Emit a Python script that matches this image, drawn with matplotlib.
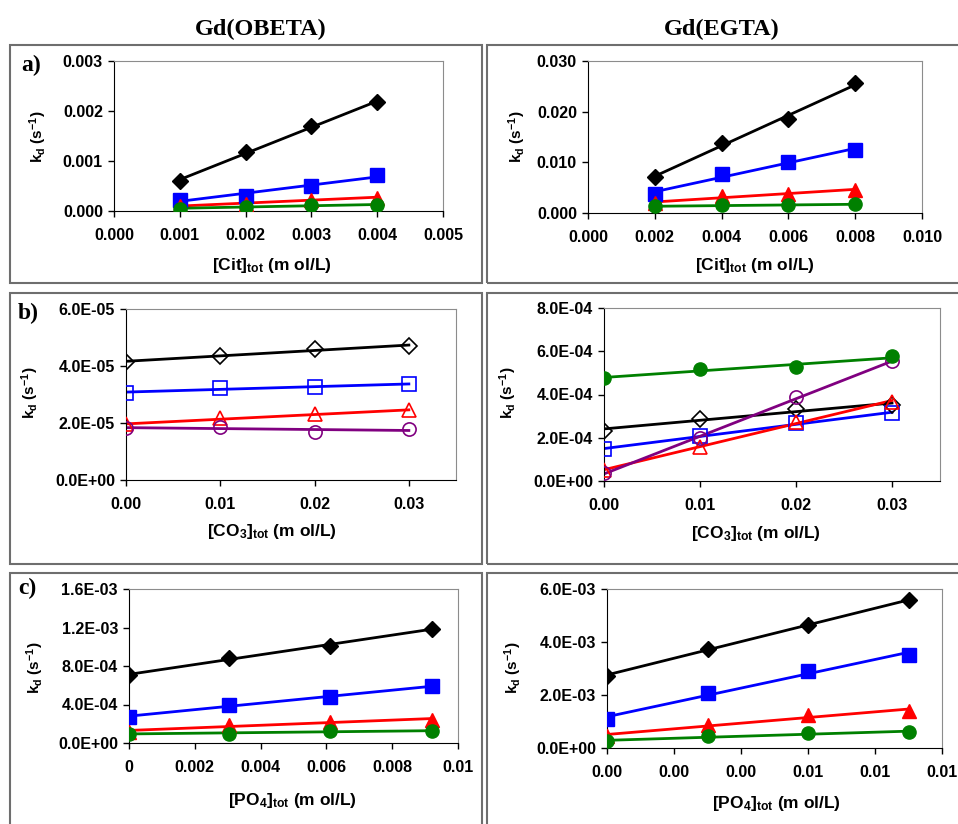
import numpy as np
import matplotlib
matplotlib.use('Agg')
import matplotlib.pyplot as plt
from matplotlib.patches import Rectangle
from matplotlib.ticker import FuncFormatter

plt.rcParams['font.family'] = ['Liberation Sans', 'DejaVu Sans']
plt.rcParams['font.weight'] = 'bold'
plt.rcParams['mathtext.default'] = 'regular'

W, H = 958, 824

# ---- data ----
# a) citrate
cit_obeta_x = [0.001, 0.002, 0.003, 0.004]
cit_obeta_black = [0.00060, 0.00118, 0.00170, 0.00217]
cit_obeta_blue = [0.00023, 0.00031, 0.00050, 0.00071]
cit_obeta_red = [0.00010, 0.00015, 0.00023, 0.00027]
cit_obeta_green = [0.00005, 0.00008, 0.00012, 0.00012]

cit_egta_x = [0.002, 0.004, 0.006, 0.008]
cit_egta_black = [0.0071, 0.0139, 0.0185, 0.0256]
cit_egta_blue = [0.0038, 0.0076, 0.0100, 0.0125]
cit_egta_red = [0.0020, 0.0033, 0.0038, 0.0046]
cit_egta_green = [0.0013, 0.0015, 0.0016, 0.0017]

# b) carbonate
co3_x = [0.0, 0.01, 0.02, 0.03]
co3_obeta_black = [4.15e-05, 4.36e-05, 4.58e-05, 4.71e-05]
co3_obeta_blue = [3.06e-05, 3.22e-05, 3.27e-05, 3.36e-05]
co3_obeta_red = [1.95e-05, 2.16e-05, 2.30e-05, 2.45e-05]
co3_obeta_purple = [1.84e-05, 1.85e-05, 1.67e-05, 1.79e-05]

co3_egta_green = [4.78e-04, 5.17e-04, 5.26e-04, 5.76e-04]
co3_egta_purple = [0.37e-04, 1.97e-04, 3.87e-04, 5.53e-04]
co3_egta_black = [2.32e-04, 2.89e-04, 3.31e-04, 3.51e-04]
co3_egta_blue = [1.46e-04, 2.09e-04, 2.68e-04, 3.13e-04]
co3_egta_red = [0.50e-04, 1.58e-04, 2.74e-04, 3.67e-04]

# c) phosphate
po4_obeta_x = [0.0, 0.00305, 0.0061, 0.0092]
po4_obeta_black = [7.06e-04, 8.87e-04, 10.09e-04, 11.86e-04]
po4_obeta_blue = [2.71e-04, 4.00e-04, 4.73e-04, 5.91e-04]
po4_obeta_red = [1.15e-04, 1.91e-04, 2.19e-04, 2.43e-04]
po4_obeta_green = [0.97e-04, 0.97e-04, 1.25e-04, 1.25e-04]

po4_egta_x = [0.0, 0.0030, 0.0060, 0.0090]
po4_egta_black = [2.73e-03, 3.74e-03, 4.65e-03, 5.57e-03]
po4_egta_blue = [1.09e-03, 2.08e-03, 2.89e-03, 3.52e-03]
po4_egta_red = [0.44e-03, 0.88e-03, 1.26e-03, 1.38e-03]
po4_egta_green = [0.25e-03, 0.44e-03, 0.57e-03, 0.59e-03]

col_titles = ['Gd(OBETA)', 'Gd(EGTA)']

# series styles: (color, marker, size)
STYLE = {'black': ('black', 'D', 8), 'blue': ('#0000FF', 's', 9.5),
         'red': ('#FF0000', '^', 9.5), 'green': ('#008000', 'o', 9.5),
         'purple': ('#800080', 'o', 9.5)}


def fig_xy(x, y):
    return x / W, 1 - y / H


def draw_series(ax, x, name, y, open_marker=False):
    c, m, ms = STYLE[name]
    k, d = np.polyfit(x, y, 1)
    xx = np.array([x[0], x[-1]])
    ax.plot(xx, k * xx + d, color=c, lw=2, zorder=2)
    if open_marker:
        ax.plot(x, y, ls='none', marker=m, ms=ms, mfc='none',
                mec=c, mew=1.2, zorder=3)
    else:
        ax.plot(x, y, ls='none', marker=m, ms=ms, color=c, zorder=3)


def add_panel(box, x, series, ylim, yticks, yfmt, xlim, xticks, xfmt,
              xlabel, ylab_xy, xlab_xy, open_markers=False):
    l, r, t, b = box
    ax = fig.add_axes([l / W, 1 - b / H, (r - l) / W, (b - t) / H])
    for name, y in series:
        draw_series(ax, x, name, y, open_markers)
    ax.set_xlim(*xlim)
    ax.set_ylim(*ylim)
    ax.set_xticks(xticks)
    ax.set_yticks(yticks)
    ax.xaxis.set_major_formatter(FuncFormatter(lambda v, p: xfmt(v)))
    ax.yaxis.set_major_formatter(FuncFormatter(lambda v, p: yfmt(v)))
    ax.tick_params(labelsize=11.5, length=4, width=1)
    ax.tick_params(axis='x', pad=8)
    ax.tick_params(axis='y', pad=4)
    for s in ('top', 'right'):
        ax.spines[s].set_color('#8c8c8c')
    for s in ('left', 'bottom'):
        ax.spines[s].set_color('black')
    ax.set_ylabel('k$_d$ (s$^{-1}$)', fontsize=11, fontweight='bold')
    ax.set_xlabel(xlabel, fontsize=12.5, fontweight='bold')
    # ylabel: right edge / centre ; xlabel: centre / top edge
    ax.yaxis.set_label_coords(*fig_xy(*ylab_xy), transform=fig.transFigure)
    ax.xaxis.set_label_coords(*fig_xy(*xlab_xy), transform=fig.transFigure)
    return ax


fig = plt.figure(figsize=(9.58, 8.24), dpi=100)

# panel frames
for (l, r, t, b) in [(10, 482, 45, 283), (487, 970, 45, 283),
                     (10, 482, 293, 564), (487, 970, 293, 564),
                     (10, 482, 573, 840), (487, 970, 573, 840)]:
    x0, y0 = fig_xy(l, b)
    fig.add_artist(Rectangle((x0, y0), (r - l) / W, (b - t) / H,
                             transform=fig.transFigure, fill=False,
                             ec='#6e6e6e', lw=1.5))

f3 = lambda v: '%.3f' % v
f2 = lambda v: '%.2f' % v
fe = lambda v: '%.1E' % v
fg = lambda v: '%g' % round(v, 6)

add_panel((114, 443, 61, 211), cit_obeta_x,
          [('black', cit_obeta_black), ('blue', cit_obeta_blue),
           ('red', cit_obeta_red), ('green', cit_obeta_green)],
          (0, 0.003), np.arange(0, 0.0031, 0.001), f3,
          (0, 0.005), np.arange(0, 0.0051, 0.001), f3,
          '[Cit]$_{tot}$ (m ol/L)', (49, 137), (272, 256))

add_panel((588, 922, 61, 213), cit_egta_x,
          [('black', cit_egta_black), ('blue', cit_egta_blue),
           ('red', cit_egta_red), ('green', cit_egta_green)],
          (0, 0.030), np.arange(0, 0.031, 0.010), f3,
          (0, 0.010), np.arange(0, 0.0101, 0.002), f3,
          '[Cit]$_{tot}$ (m ol/L)', (528, 137), (755, 256))

add_panel((126, 456, 309, 480), co3_x,
          [('black', co3_obeta_black), ('blue', co3_obeta_blue),
           ('red', co3_obeta_red), ('purple', co3_obeta_purple)],
          (0, 6e-05), np.arange(0, 6.1e-05, 2e-05), fe,
          (0, 0.035), [0, 0.01, 0.02, 0.03], f2,
          '[CO$_3$]$_{tot}$ (m ol/L)', (41, 393), (272, 522), open_markers=True)

ax = add_panel((604, 940, 308, 481), co3_x,
               [('black', co3_egta_black), ('blue', co3_egta_blue),
                ('red', co3_egta_red), ('purple', co3_egta_purple)],
               (0, 8e-04), np.arange(0, 8.1e-04, 2e-04), fe,
               (0, 0.035), [0, 0.01, 0.02, 0.03], f2,
               '[CO$_3$]$_{tot}$ (m ol/L)', (519, 393), (756, 524),
               open_markers=True)
# green series in the carbonate/EGTA panel uses filled circles
draw_series(ax, co3_x, 'green', co3_egta_green)

add_panel((129, 458, 589, 743), po4_obeta_x,
          [('black', po4_obeta_black), ('blue', po4_obeta_blue),
           ('red', po4_obeta_red), ('green', po4_obeta_green)],
          (0, 1.6e-03), np.arange(0, 1.61e-03, 4e-04), fe,
          (0, 0.01), np.arange(0, 0.0101, 0.002), fg,
          '[PO$_4$]$_{tot}$ (m ol/L)', (46, 668), (292, 791))

add_panel((607, 942, 589, 748), po4_egta_x,
          [('black', po4_egta_black), ('blue', po4_egta_blue),
           ('red', po4_egta_red), ('green', po4_egta_green)],
          (0, 6e-03), np.arange(0, 6.1e-03, 2e-03), fe,
          (0, 0.01), np.arange(0, 0.0101, 0.002), f2,
          '[PO$_4$]$_{tot}$ (m ol/L)', (524, 668), (776, 794))

# column titles and panel letters
serif = ['Liberation Serif', 'DejaVu Serif']
fig.text(*fig_xy(261, 29), col_titles[0], family=serif, fontsize=17.5,
         fontweight='bold', ha='center', va='center')
fig.text(*fig_xy(722, 29), col_titles[1], family=serif, fontsize=17.5,
         fontweight='bold', ha='center', va='center')
for lab, (px, py) in zip(['a)', 'b)', 'c)'], [(21, 65), (18, 313), (18, 588)]):
    fig.text(*fig_xy(px, py), lab, family=serif, fontsize=17,
             fontweight='bold', ha='left', va='center')

fig.savefig('out.png', dpi=100)
